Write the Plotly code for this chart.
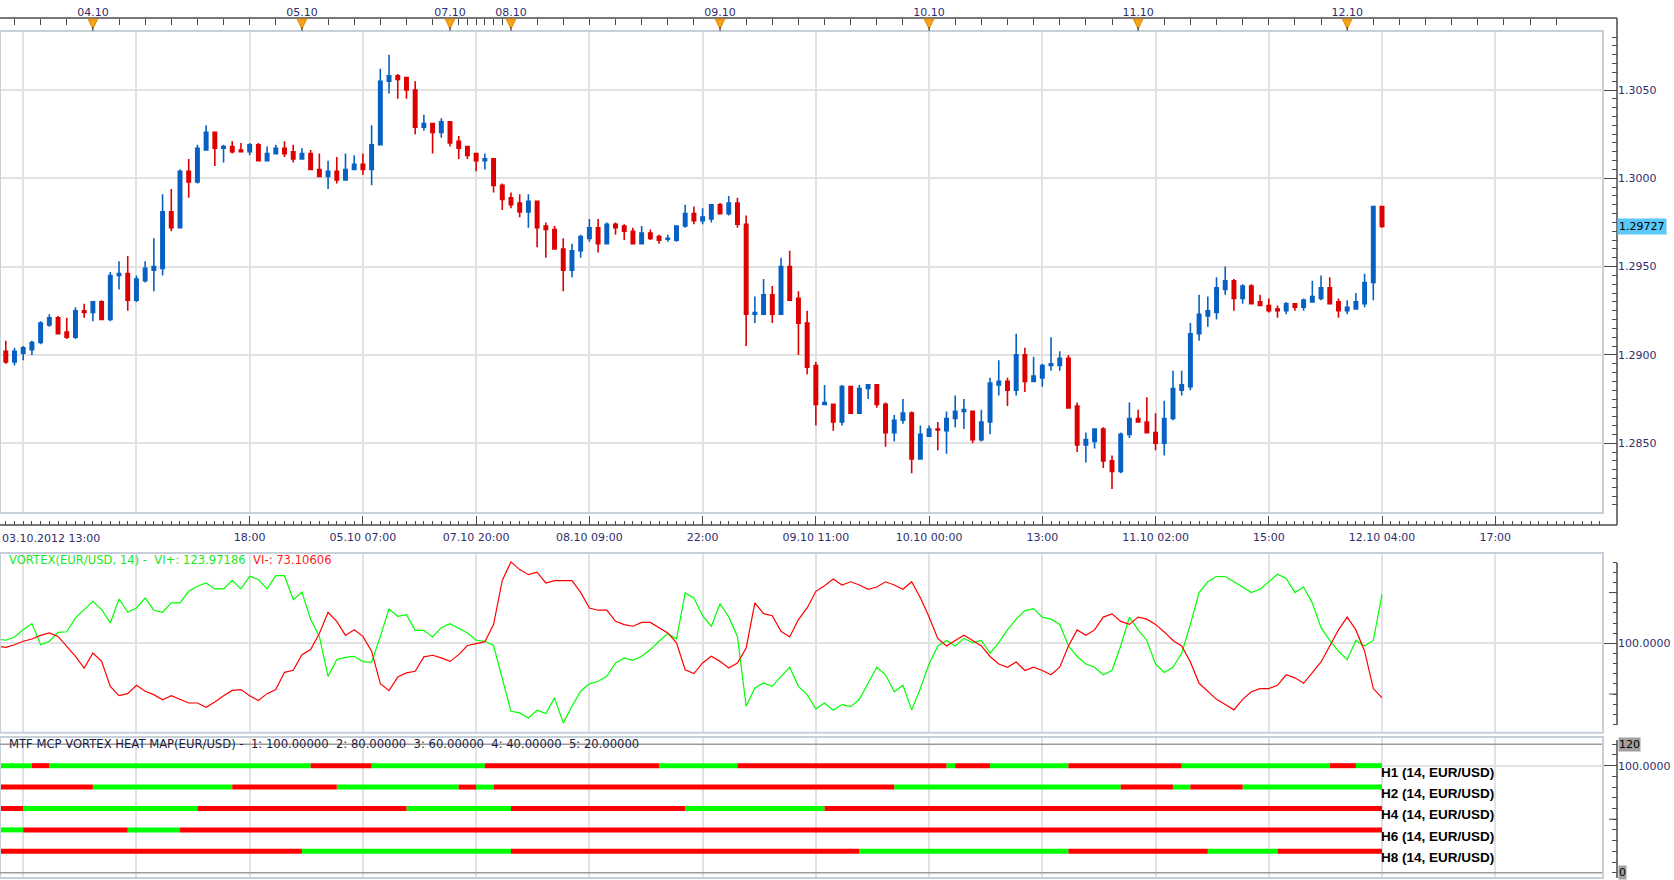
import plotly.graph_objects as go
import pandas as pd

W, H = 1674, 880

# ---------------- data ----------------
open_ = [1.2907, 1.2902, 1.2896, 1.2901, 1.2903, 1.2907, 1.2917, 1.2921, 1.2913, 1.2910,
         1.2925, 1.2924, 1.2930, 1.2920, 1.2945, 1.2946, 1.2931, 1.2942, 1.2948, 1.2949,
         1.2981, 1.2972, 1.3004, 1.2998, 1.3016, 1.3026, 1.3017, 1.3018, 1.3016, 1.3015,
         1.3019, 1.3010, 1.3014, 1.3017, 1.3015, 1.3011, 1.3014, 1.3005, 1.3001, 1.3004,
         1.2999, 1.3005, 1.3008, 1.3005, 1.3019, 1.3055, 1.3058, 1.3057, 1.3050, 1.3029,
         1.3031, 1.3026, 1.3032, 1.3021, 1.3018, 1.3014, 1.3010, 1.3011, 1.2996, 1.2989,
         1.2986, 1.2981, 1.2987, 1.2973, 1.2971, 1.2960, 1.2948, 1.2959, 1.2966, 1.2972,
         1.2963, 1.2974, 1.2973, 1.2970, 1.2963, 1.2969, 1.2967, 1.29655, 1.2965, 1.2973,
         1.2980, 1.2976, 1.2977, 1.2985, 1.2980, 1.2986, 1.2974, 1.2923, 1.2923, 1.2934,
         1.2923, 1.2950, 1.2932, 1.2918, 1.2894, 1.2872, 1.2872, 1.2862, 1.2882, 1.2867,
         1.2881, 1.2883, 1.2872, 1.2856, 1.2863, 1.2867, 1.2841, 1.2854, 1.2858, 1.2857,
         1.2864, 1.2868, 1.2868, 1.2852, 1.2862, 1.2883, 1.2885, 1.2880, 1.2900, 1.2885,
         1.2887, 1.2894, 1.2894, 1.2898, 1.2871, 1.2849, 1.2851, 1.2858, 1.2840, 1.2834,
         1.2855, 1.2864, 1.2862, 1.2856, 1.2850, 1.2864, 1.2880, 1.2882, 1.2912, 1.2922,
         1.2924, 1.2937, 1.2942, 1.2932, 1.2939, 1.2930, 1.2928, 1.2926, 1.2925, 1.2929,
         1.2927, 1.2930, 1.2932, 1.2938, 1.2930, 1.2925, 1.2926, 1.2929, 1.2941, 1.2984]
high_ = [1.2909, 1.2908, 1.2904, 1.2905, 1.2908, 1.2919, 1.2923, 1.2922, 1.2921, 1.2927,
         1.2929, 1.2930, 1.2931, 1.2947, 1.2953, 1.2956, 1.2945, 1.2953, 1.2966, 1.2991,
         1.2994, 1.3005, 1.3011, 1.3019, 1.3030, 1.3026, 1.3019, 1.3021, 1.3020, 1.3020,
         1.3020, 1.3018, 1.3019, 1.3021, 1.3019, 1.3017, 1.3016, 1.3014, 1.3010, 1.3012,
         1.3014, 1.3013, 1.3014, 1.3030, 1.3062, 1.3070, 1.3059, 1.3057, 1.3055, 1.3036,
         1.3031, 1.3034, 1.3032, 1.3024, 1.3018, 1.3014, 1.3014, 1.3011, 1.2997, 1.2992,
         1.2991, 1.2991, 1.2987, 1.2975, 1.2973, 1.2966, 1.2963, 1.2968, 1.2977, 1.2977,
         1.2975, 1.2975, 1.2974, 1.2972, 1.2973, 1.2971, 1.2968, 1.2968, 1.2973, 1.2985,
         1.2984, 1.2983, 1.2985, 1.2986, 1.2990, 1.2989, 1.2979, 1.2933, 1.2943, 1.2939,
         1.2955, 1.2959, 1.2936, 1.2925, 1.2896, 1.2883, 1.2872, 1.2883, 1.2882, 1.2883,
         1.2883, 1.2883, 1.2873, 1.2866, 1.2875, 1.2868, 1.2860, 1.2860, 1.2862, 1.2868,
         1.2877, 1.2875, 1.2868, 1.2869, 1.2887, 1.2897, 1.2887, 1.2912, 1.2904, 1.2899,
         1.2895, 1.2910, 1.2902, 1.2900, 1.2873, 1.2856, 1.2858, 1.2859, 1.2843, 1.2856,
         1.2873, 1.2869, 1.2876, 1.2867, 1.2874, 1.2891, 1.2891, 1.2918, 1.2934, 1.2933,
         1.2944, 1.2950, 1.2943, 1.2940, 1.2940, 1.2934, 1.2932, 1.2928, 1.2930, 1.2929,
         1.2932, 1.2942, 1.2945, 1.2944, 1.2932, 1.2931, 1.2935, 1.2946, 1.2984, 1.2984]
low_ = [1.2895, 1.2895, 1.2894, 1.2897, 1.2900, 1.2906, 1.2916, 1.2912, 1.2909, 1.2909,
        1.2921, 1.2919, 1.2920, 1.2919, 1.2937, 1.2925, 1.2930, 1.2941, 1.2936, 1.2945,
        1.2970, 1.2972, 1.2989, 1.2997, 1.3016, 1.3007, 1.3009, 1.3014, 1.3015, 1.3013,
        1.3010, 1.3010, 1.3014, 1.3012, 1.3009, 1.3011, 1.3005, 1.3001, 1.2994, 1.2997,
        1.2999, 1.3005, 1.3002, 1.2996, 1.3019, 1.3048, 1.3045, 1.3045, 1.3025, 1.3027,
        1.3014, 1.3023, 1.3018, 1.3011, 1.3011, 1.3004, 1.3005, 1.2992, 1.2982, 1.2983,
        1.2978, 1.2972, 1.2961, 1.2955, 1.2960, 1.2936, 1.2944, 1.2955, 1.2964, 1.2958,
        1.2963, 1.2968, 1.2965, 1.2963, 1.2963, 1.2965, 1.2963, 1.2964, 1.2964, 1.2972,
        1.2974, 1.2974, 1.2975, 1.2980, 1.2979, 1.2972, 1.2905, 1.2918, 1.2923, 1.2918,
        1.2923, 1.2931, 1.2900, 1.2889, 1.2860, 1.2872, 1.2857, 1.2860, 1.2867, 1.2867,
        1.2875, 1.2870, 1.2848, 1.2851, 1.2861, 1.2833, 1.2841, 1.2854, 1.2846, 1.2844,
        1.2859, 1.2858, 1.2850, 1.2851, 1.2855, 1.2877, 1.2871, 1.2877, 1.2879, 1.2885,
        1.2882, 1.2891, 1.2891, 1.2870, 1.2845, 1.2839, 1.2847, 1.2836, 1.2824, 1.2833,
        1.2853, 1.2862, 1.2856, 1.2846, 1.2843, 1.2863, 1.2877, 1.2880, 1.2908, 1.2916,
        1.2920, 1.2934, 1.2925, 1.2929, 1.2929, 1.2928, 1.2924, 1.2921, 1.2923, 1.2925,
        1.2925, 1.2930, 1.2931, 1.2929, 1.2921, 1.2923, 1.2926, 1.2927, 1.2931, 1.2972]
close_ = [1.2897, 1.2896, 1.2902, 1.2904, 1.2907, 1.2918, 1.2921, 1.2912, 1.2910, 1.2925,
          1.2924, 1.2930, 1.2920, 1.2945, 1.2946, 1.2931, 1.2943, 1.2949, 1.2950, 1.2981,
          1.2972, 1.3004, 1.2998, 1.3017, 1.3026, 1.3017, 1.3018, 1.3015, 1.3015, 1.3019,
          1.3010, 1.3014, 1.3017, 1.3014, 1.3011, 1.3014, 1.3005, 1.3001, 1.3004, 1.2999,
          1.3005, 1.3008, 1.3005, 1.3019, 1.3055, 1.3058, 1.3056, 1.3050, 1.3029, 1.3031,
          1.3026, 1.3032, 1.3020, 1.3017, 1.3013, 1.3010, 1.3011, 1.2996, 1.2988, 1.2985,
          1.2981, 1.2987, 1.2972, 1.2971, 1.2960, 1.2948, 1.2959, 1.2967, 1.2972, 1.2963,
          1.2974, 1.2972, 1.2970, 1.2963, 1.2969, 1.2966, 1.2965, 1.2966, 1.2973, 1.2980,
          1.2976, 1.2978, 1.2985, 1.2980, 1.2986, 1.2974, 1.2923, 1.2924, 1.2934, 1.2923,
          1.2950, 1.2931, 1.2918, 1.2893, 1.2872, 1.2873, 1.2862, 1.2882, 1.2867, 1.2881,
          1.2883, 1.2872, 1.2856, 1.2863, 1.2867, 1.2841, 1.2855, 1.2858, 1.28575, 1.2864,
          1.2868, 1.2869, 1.2852, 1.2862, 1.2884, 1.2885, 1.2880, 1.2900, 1.2885, 1.2888,
          1.2894, 1.2895, 1.2898, 1.2870, 1.2849, 1.2852, 1.2858, 1.2840, 1.2834, 1.2855,
          1.2864, 1.2862, 1.2856, 1.2850, 1.2864, 1.2881, 1.2883, 1.2912, 1.2923, 1.2925,
          1.2938, 1.2942, 1.2932, 1.2939, 1.2929, 1.2928, 1.2925, 1.2925, 1.2929, 1.2927,
          1.2931, 1.2933, 1.2938, 1.2929, 1.2925, 1.2927, 1.2930, 1.2941, 1.2984, 1.29727]

vi_plus = [102.1, 101.5, 103.1, 106.7, 109.7, 99.3, 101.0, 105.4, 105.7, 112.5,
           116.6, 120.7, 116.6, 110.0, 121.8, 115.3, 117.4, 122.3, 116.3, 115.3,
           119.9, 119.9, 125.6, 128.1, 129.7, 126.8, 126.8, 131.0, 126.8, 133.0,
           131.4, 126.8, 133.3, 133.3, 121.5, 125.3, 111.7, 103.4, 83.7, 92.0,
           93.1, 93.6, 91.0, 90.6, 103.4, 116.9, 113.3, 114.1, 106.4, 106.4,
           103.1, 107.7, 109.7, 107.6, 105.1, 101.5, 101.0, 98.9, 82.1, 66.5,
           65.7, 63.2, 67.0, 65.4, 73.1, 60.8, 69.0, 76.4, 80.0, 81.3,
           83.7, 90.3, 92.8, 91.6, 93.6, 96.9, 101.0, 104.8, 102.1, 124.8,
           122.3, 113.6, 108.4, 119.5, 113.0, 103.4, 69.0, 78.0, 80.5, 78.8,
           83.7, 88.2, 78.8, 74.7, 67.7, 70.6, 67.0, 69.8, 68.8, 72.4,
           80.3, 88.2, 84.5, 76.1, 79.3, 67.2, 77.7, 89.8, 98.7, 101.4,
           98.7, 102.4, 100.3, 101.4, 95.1, 100.3, 106.6, 111.9, 116.1, 117.1,
           112.9, 111.9, 109.3, 98.7, 93.5, 89.8, 88.2, 84.5, 86.6, 98.7,
           112.9, 106.6, 101.4, 89.8, 85.6, 88.2, 95.1, 109.3, 125.0, 130.3,
           132.9, 132.9, 130.3, 127.7, 125.0, 126.6, 130.3, 134.0, 131.9, 125.0,
           127.7, 119.8, 107.7, 101.4, 96.1, 91.9, 101.4, 98.7, 101.4, 123.97186]
vi_minus = [98.5, 98.0, 99.3, 101.0, 102.1, 103.9, 105.1, 103.4, 98.5, 93.6,
            87.8, 95.2, 91.1, 78.8, 74.2, 75.2, 79.3, 76.4, 74.7, 72.2,
            74.2, 72.2, 70.6, 70.6, 68.5, 71.1, 74.2, 76.8, 77.2, 74.2,
            71.8, 75.2, 77.2, 85.7, 86.7, 94.4, 96.9, 104.8, 115.3, 110.8,
            103.9, 106.7, 103.4, 96.1, 80.1, 76.7, 83.4, 85.4, 86.2, 93.3,
            94.1, 92.8, 91.1, 94.4, 98.9, 99.8, 100.8, 109.2, 131.0, 140.1,
            136.3, 133.8, 135.0, 129.7, 130.9, 130.9, 130.9, 125.1, 117.4, 116.3,
            116.3, 110.8, 109.2, 108.4, 110.3, 110.3, 107.6, 105.1, 100.2, 87.0,
            85.1, 90.3, 93.6, 91.1, 87.8, 90.3, 97.7, 119.9, 114.6, 113.6,
            105.9, 103.1, 111.7, 117.4, 125.6, 128.4, 131.7, 128.7, 130.3, 128.7,
            126.6, 127.7, 130.3, 128.7, 126.6, 130.3, 122.4, 112.9, 102.4, 98.7,
            101.4, 104.0, 101.4, 98.7, 93.5, 89.8, 88.2, 90.8, 86.6, 88.2,
            86.6, 84.5, 88.2, 98.7, 106.6, 104.0, 106.6, 112.9, 114.5, 110.8,
            109.3, 112.9, 111.9, 109.3, 105.6, 101.4, 98.7, 90.8, 80.3, 76.1,
            72.4, 69.8, 67.2, 72.4, 76.1, 77.7, 77.7, 79.3, 84.5, 83.0,
            80.3, 85.6, 90.8, 98.7, 106.6, 112.9, 106.6, 96.1, 77.7, 73.10606]

# heat map: (first bar index of run, state) ; g = VI+ above, r = VI- above
h1_runs = [(0, "g"), (4, "r"), (6, "g"), (36, "r"), (43, "g"), (56, "r"), (76, "g"), (85, "r"),
           (109, "g"), (110, "r"), (114, "g"), (123, "r"), (136, "g"), (153, "r"), (156, "g")]
h2_runs = [(0, "r"), (11, "g"), (27, "r"), (39, "g"), (53, "r"), (55, "g"), (57, "r"),
           (103, "g"), (129, "r"), (135, "g"), (137, "r"), (143, "g")]
h4_runs = [(0, "r"), (3, "g"), (23, "r"), (47, "g"), (59, "r"), (79, "g"), (95, "r")]
h6_runs = [(0, "g"), (3, "r"), (15, "g"), (21, "r")]
h8_runs = [(0, "r"), (35, "g"), (59, "r"), (99, "g"), (123, "r"), (139, "g"), (147, "r")]
heat_names = ["H1", "H2", "H4", "H6", "H8"]
heat_levels = [100, 80, 60, 40, 20]

bottom_label_times = ["2012-10-04 18:00", "2012-10-05 07:00", "2012-10-07 20:00", "2012-10-08 09:00",
                      "2012-10-08 22:00", "2012-10-09 11:00", "2012-10-10 00:00", "2012-10-10 13:00",
                      "2012-10-11 02:00", "2012-10-11 15:00", "2012-10-12 04:00", "2012-10-12 17:00"]
bottom_label_text = ["18:00", "05.10 07:00", "07.10 20:00", "08.10 09:00", "22:00", "09.10 11:00",
                     "10.10 00:00", "13:00", "11.10 02:00", "15:00", "12.10 04:00", "17:00"]
extra_grid_times = ["2012-10-03 16:00", "2012-10-04 05:00"]
price_ticks = [1.2850, 1.2900, 1.2950, 1.3000, 1.3050]

# ---------------- time slots (hourly bars, weekend removed) ----------------
all_hours = pd.date_range("2012-10-03 13:00", "2012-10-13 02:00", freq="h")
closed = (all_hours >= pd.Timestamp("2012-10-05 17:00")) & (all_hours < pd.Timestamp("2012-10-07 17:00"))
slots = list(all_hours[~closed])
pos = {t: i for i, t in enumerate(slots)}
n = len(open_)
xs = list(range(n))

lab_idx = [pos[pd.Timestamp(t)] for t in bottom_label_times]
grid_idx = sorted([pos[pd.Timestamp(t)] for t in extra_grid_times] + lab_idx)
day_idx, day_txt = [], []
for i in range(1, n):
    if slots[i].date() != slots[i - 1].date():
        day_idx.append(i)
        day_txt.append(slots[i].strftime("%d.%m"))
three_h = [i for i, t in enumerate(slots) if t.hour % 3 == 0]
sun_idx = [i for i, t in enumerate(slots[:n]) if t.date() == pd.Timestamp("2012-10-07").date()]
top_minor = sorted(set(three_h + sun_idx))

# ---------------- style / layout constants ----------------
F = "DejaVu Sans"
NAVY = "#2e2e6c"
AX = "#4a4a4a"
GRID = "#e2e2e2"
BORDER = "#c7cfd9"
BLUE = "#0761c2"
RED = "#dd0000"
LGREEN = "#00ff00"
LRED = "#ff0000"
XR = 1603 / W
YX = 1617 / W
X_RANGE = [0.336, 184.37]


def py(v):
    return 1 - v / H


fig = go.Figure()
fig.add_trace(go.Candlestick(
    x=xs, open=open_, high=high_, low=low_, close=close_, xaxis="x", yaxis="y",
    increasing=dict(line=dict(color=BLUE, width=1.6), fillcolor=BLUE),
    decreasing=dict(line=dict(color=RED, width=1.6), fillcolor=RED),
    whiskerwidth=0, hoverinfo="skip"))
fig.add_trace(go.Scatter(x=xs, y=vi_plus, mode="lines", line=dict(color=LGREEN, width=1.2),
                         xaxis="x2", yaxis="y2", hoverinfo="skip"))
fig.add_trace(go.Scatter(x=xs, y=vi_minus, mode="lines", line=dict(color=LRED, width=1.2),
                         xaxis="x2", yaxis="y2", hoverinfo="skip"))

for runs, lvl in zip([h1_runs, h2_runs, h4_runs, h6_runs, h8_runs], heat_levels):
    for state, col in (("g", LGREEN), ("r", LRED)):
        sx, sy = [], []
        for k, (s, c) in enumerate(runs):
            if c != state:
                continue
            e = runs[k + 1][0] if k + 1 < len(runs) else n - 1
            sx += [s, e, None]
            sy += [lvl, lvl, None]
        fig.add_trace(go.Scatter(x=sx, y=sy, mode="lines", line=dict(color=col, width=5),
                                 xaxis="x3", yaxis="y3", hoverinfo="skip"))

# invisible helpers so the overlay time axes are drawn
fig.add_trace(go.Scatter(x=[10], y=[1.29], mode="markers", marker=dict(opacity=0),
                         xaxis="x4", yaxis="y", hoverinfo="skip"))
fig.add_trace(go.Scatter(x=[10], y=[1.29], mode="markers", marker=dict(opacity=0),
                         xaxis="x5", yaxis="y", hoverinfo="skip"))

common_x = dict(range=X_RANGE, domain=[0, XR], showgrid=True, gridcolor=GRID, gridwidth=1.5,
                tickmode="array", tickvals=grid_idx, showticklabels=False, ticks="",
                zeroline=False, showline=False, fixedrange=True)
tickfont = dict(family=F, size=11, color=NAVY)

common_y = dict(anchor="free", position=YX, side="right", ticks="inside", tickcolor=AX,
                ticklen=14, tickwidth=1, showline=False, zeroline=False, tickfont=tickfont,
                showgrid=True, gridcolor=GRID, gridwidth=1.5, fixedrange=True, tickmode="array")

fig.update_layout(
    width=W, height=H, margin=dict(l=0, r=0, t=0, b=0),
    paper_bgcolor="white", plot_bgcolor="white", showlegend=False, boxgap=0.45,
    xaxis=dict(**common_x, anchor="y", rangeslider=dict(visible=False)),
    xaxis2=dict(**common_x, anchor="y2"),
    xaxis3=dict(**common_x, anchor="y3"),
    xaxis4=dict(range=X_RANGE, domain=[0, XR], overlaying="x", anchor="free", position=py(525),
                side="bottom", showgrid=False, zeroline=False, showline=False,
                tickmode="array", tickvals=lab_idx, ticktext=bottom_label_text,
                ticks="inside", ticklen=9, tickcolor=AX, tickfont=tickfont, ticklabelstandoff=4,
                minor=dict(tickmode="linear", tick0=0, dtick=1, ticks="inside", ticklen=4,
                           tickcolor=AX, showgrid=False), fixedrange=True),
    xaxis5=dict(range=X_RANGE, domain=[0, XR], overlaying="x", anchor="free", position=py(18),
                side="top", showgrid=False, zeroline=False, showline=False,
                tickmode="array", tickvals=day_idx, ticktext=day_txt,
                ticks="inside", ticklen=6, tickcolor=AX, tickfont=tickfont,
                minor=dict(tickmode="array", tickvals=top_minor, ticks="inside", ticklen=6,
                           tickcolor=AX, showgrid=False), fixedrange=True),
    yaxis=dict(**common_y, domain=[py(513), py(31)], range=[1.281046, 1.308342],
               tickvals=price_ticks, ticktext=[f"{v:.4f}" for v in price_ticks],
               minor=dict(tickmode="linear", tick0=1.28, dtick=0.0005, ticks="inside", ticklen=5,
                          tickcolor=AX, showgrid=False)),
    yaxis2=dict(**common_y, domain=[py(732.7), py(553)], range=[55.96, 144.48],
                tickvals=[100], ticktext=["100.0000"],
                minor=dict(tickmode="linear", tick0=0, dtick=5, ticks="inside", ticklen=4,
                           tickcolor=AX, showgrid=False)),
    yaxis3=dict(**common_y, domain=[py(878), py(737)], range=[-4.95, 126.8],
                tickvals=[100], ticktext=["100.0000"],
                minor=dict(tickmode="linear", tick0=0, dtick=10, ticks="inside", ticklen=5,
                           tickcolor=AX, showgrid=False)),
)

shapes = []
# pane borders
for top, bot in ((31, 513), (553, 732.7), (737, 878)):
    shapes.append(dict(type="rect", xref="paper", yref="paper", x0=0, x1=XR, y0=py(bot), y1=py(top),
                       line=dict(color=BORDER, width=2), fillcolor="rgba(0,0,0,0)", layer="above"))
# heat pane reference lines (120 and 0)
for v in (120, 0):
    shapes.append(dict(type="line", xref="paper", yref="y3", x0=0, x1=XR - 1 / W, y0=v, y1=v,
                       line=dict(color="#9c9c9c", width=1.5)))
# axis lines
shapes.append(dict(type="line", xref="paper", yref="paper", x0=0, x1=YX, y0=py(18), y1=py(18),
                   line=dict(color=AX, width=1.5)))
shapes.append(dict(type="line", xref="paper", yref="paper", x0=0, x1=YX, y0=py(525), y1=py(525),
                   line=dict(color=AX, width=1.5)))
for a, b in ((18, 525), (563, 725), (740, 878)):
    shapes.append(dict(type="line", xref="paper", yref="paper", x0=YX, x1=YX, y0=py(b), y1=py(a),
                       line=dict(color=AX, width=1.5)))
# medium ticks on indicator axes
for yref, v in (("y2", 75), ("y2", 125), ("y3", 50)):
    shapes.append(dict(type="line", xref="paper", yref=yref, x0=YX - 8 / W, x1=YX, y0=v, y1=v,
                       line=dict(color=AX, width=1)))
# day markers (orange triangles) on the top date axis
for d in day_idx:
    shapes.append(dict(type="path", xref="x", yref="paper",
                       path=f"M {d - 0.55},{py(19)} L {d + 0.55},{py(19)} L {d},{py(29)} Z",
                       fillcolor="#f8a21c", line=dict(color="#e08a00", width=1)))
    shapes.append(dict(type="line", xref="x", yref="paper", x0=d, x1=d, y0=py(31), y1=py(27),
                       line=dict(color="#333333", width=1)))
fig.update_layout(shapes=shapes)

ann = []
nb = "\u00a0"
ann.append(dict(xref="paper", yref="paper", x=7 / W, y=py(560), xanchor="left", yanchor="middle",
                showarrow=False, font=dict(family=F, size=11.6),
                text=f"<span style='color:#1ee61e'>VORTEX(EUR/USD, 14) -{nb}{nb}VI+: {vi_plus[-1]:.5f}</span>"
                     f"{nb}{nb}<span style='color:#ff1a1a'>VI-: {vi_minus[-1]:.5f}</span>"))
ann.append(dict(xref="paper", yref="paper", x=7 / W, y=py(744), xanchor="left", yanchor="middle",
                showarrow=False, font=dict(family=F, size=11.6, color="#1c1c3c"),
                text="MTF MCP VORTEX HEAT MAP(EUR/USD) -" + nb * 2 +
                     (nb * 2).join(f"{k + 1}: {v:.5f}" for k, v in enumerate(heat_levels))))
for name, lvl in zip(heat_names, heat_levels):
    ann.append(dict(xref="x3", yref="y3", x=n - 1, y=lvl, xanchor="left", yanchor="top",
                    xshift=-3, yshift=3, showarrow=False,
                    font=dict(family="Liberation Sans", size=13.5, color="#000000"),
                    text=f"<b>{name} (14, EUR/USD)</b>"))
ann.append(dict(xref="paper", yref="y", x=YX, y=close_[-1], xanchor="left", yanchor="middle",
                showarrow=False, bgcolor="#5bc8f7", borderpad=1,
                font=dict(family=F, size=11, color="#000000"), text=f"{close_[-1]:.5f}"))
for v in (120, 0):
    ann.append(dict(xref="paper", yref="y3", x=YX + 1 / W, y=v, xanchor="left", yanchor="middle",
                    showarrow=False, bgcolor="#a0a0a0", borderpad=0,
                    font=dict(family=F, size=11, color="#000000"), text=str(v)))
ann.append(dict(xref="paper", yref="paper", x=0, y=py(538), xanchor="left", yanchor="middle",
                showarrow=False, font=tickfont, text=slots[0].strftime("%d.%m.%Y %H:%M")))
fig.update_layout(annotations=ann)

fig.write_html("out.html", config={"displayModeBar": False})
